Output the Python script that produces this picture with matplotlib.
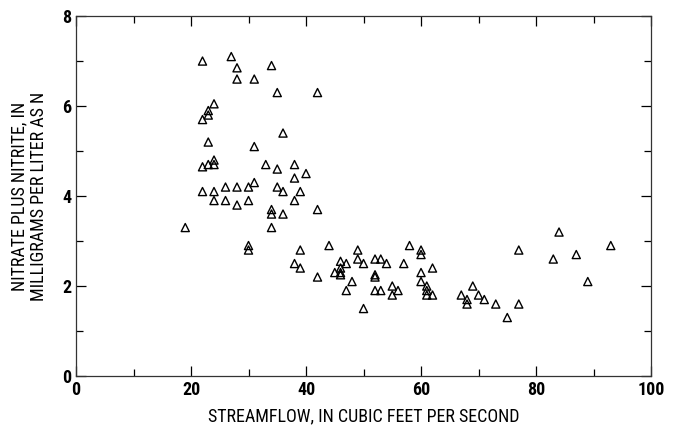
import matplotlib
matplotlib.use('Agg')
import matplotlib.pyplot as plt
from matplotlib.ticker import MultipleLocator

# streamflow (cfs) and nitrate plus nitrite (mg/L as N)
streamflow = [
    22, 27, 28, 34, 28, 31, 35, 42, 24, 23, 23, 22, 36, 23, 31,
    24, 23, 24, 22, 33, 35, 38, 40, 38,
    22, 24, 26, 28, 30, 31, 35, 36, 39,
    24, 26, 28, 30, 38, 34, 34, 36, 42,
    19, 34, 30, 30, 39, 44, 49, 49, 50, 38, 39,
    46, 47, 46, 45, 46, 46, 42, 48, 47, 50,
    52, 53, 54, 52, 52, 52, 53, 55, 55, 56, 57, 58,
    60, 60, 60, 60, 61, 61, 61, 62, 62,
    67, 68, 68, 69, 70, 71, 73, 75, 77, 77,
    83, 84, 87, 89, 93,
]
nitrate = [
    7.0, 7.1, 6.85, 6.9, 6.6, 6.6, 6.3, 6.3, 6.05, 5.9, 5.8, 5.7, 5.4, 5.2, 5.1,
    4.8, 4.7, 4.7, 4.65, 4.7, 4.6, 4.7, 4.5, 4.4,
    4.1, 4.1, 4.2, 4.2, 4.2, 4.3, 4.2, 4.1, 4.1,
    3.9, 3.9, 3.8, 3.9, 3.9, 3.7, 3.6, 3.6, 3.7,
    3.3, 3.3, 2.9, 2.8, 2.8, 2.9, 2.8, 2.6, 2.5, 2.5, 2.4,
    2.55, 2.5, 2.4, 2.3, 2.3, 2.25, 2.2, 2.1, 1.9, 1.5,
    2.6, 2.6, 2.5, 2.2, 2.25, 1.9, 1.9, 2.0, 1.8, 1.9, 2.5, 2.9,
    2.8, 2.7, 2.3, 2.1, 2.0, 1.9, 1.8, 1.8, 2.4,
    1.8, 1.7, 1.6, 2.0, 1.8, 1.7, 1.6, 1.3, 2.8, 1.6,
    2.6, 3.2, 2.7, 2.1, 2.9,
]

plt.rcParams['font.family'] = ['Roboto Condensed', 'DejaVu Sans']

fig = plt.figure(figsize=(6.81, 4.34), dpi=100)
ax = fig.add_axes([0.1116, 0.1336, 0.8444, 0.8294])

ax.scatter(streamflow, nitrate, marker='^', s=34, facecolors='none',
           edgecolors='black', linewidths=1.0, zorder=3)

ax.set_xlim(0, 100)
ax.set_ylim(0, 8)
ax.xaxis.set_major_locator(MultipleLocator(20))
ax.xaxis.set_minor_locator(MultipleLocator(10))
ax.yaxis.set_major_locator(MultipleLocator(2))
ax.yaxis.set_minor_locator(MultipleLocator(1))
ax.tick_params(which='both', direction='in', top=True, right=True,
               width=0.9, labelsize=13)
ax.tick_params(which='major', length=7)
ax.tick_params(which='minor', length=5)
for lab in ax.get_xticklabels() + ax.get_yticklabels():
    lab.set_fontweight('bold')
for sp in ax.spines.values():
    sp.set_linewidth(0.9)
    sp.set_color('#333333')

ax.set_xlabel('STREAMFLOW, IN CUBIC FEET PER SECOND', fontsize=13, labelpad=6)
ax.set_ylabel('NITRATE PLUS NITRITE, IN\nMILLIGRAMS PER LITER AS N',
              fontsize=13, labelpad=10, linespacing=1.1)

plt.savefig('out.png', dpi=100)
